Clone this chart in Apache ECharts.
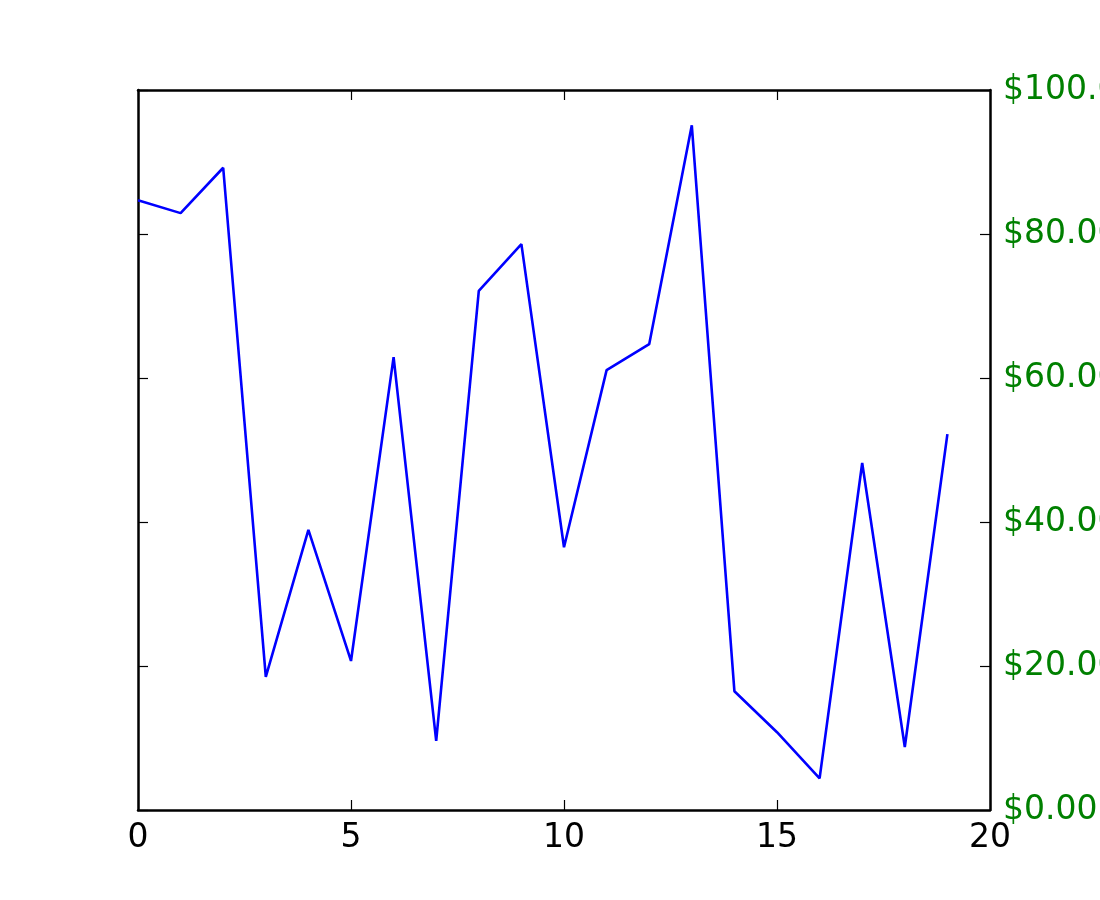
<!DOCTYPE html>
<html>
<head>
<meta charset="utf-8">
<script src="https://cdn.jsdelivr.net/npm/echarts@6/dist/echarts.min.js"></script>
<style>html,body{margin:0;padding:0;background:#fff}#c{width:1100px;height:900px}</style>
</head>
<body>
<div id="c"></div>
<script>
const xValues = [0,1,2,3,4,5,6,7,8,9,10,11,12,13,14,15,16,17,18,19];
const yValues = [84.7,82.9,89.2,18.5,38.9,20.7,62.9,9.6,72.1,78.6,36.5,61.1,64.7,95.1,16.5,10.8,4.4,48.2,8.75,52.2];
const xTicks = [0,5,10,15,20];
const yTicks = [0,20,40,60,80,100];

const chart = echarts.init(document.getElementById('c'));
const font = 'DejaVu Sans';
const axisLine = {show:true, onZero:false, lineStyle:{color:'#000', width:2.5}};
const tick = {show:true, inside:true, length:10, lineStyle:{color:'#000', width:1.2}};
chart.setOption({
  animation:false,
  grid:{left:138, right:110, top:90, bottom:90, containLabel:false, outerBoundsMode:'none'},
  xAxis:[
    {type:'value', position:'bottom', min:0, max:20, interval:5,
     axisLine:axisLine, axisTick:tick, splitLine:{show:false},
     axisLabel:{color:'#000', fontFamily:font, fontSize:33, margin:12}},
    {type:'value', position:'top', min:0, max:20, interval:5,
     axisLine:axisLine, axisTick:tick, splitLine:{show:false},
     axisLabel:{show:false}}
  ],
  yAxis:[
    {type:'value', position:'left', min:0, max:100, interval:20,
     axisLine:axisLine, axisTick:tick, splitLine:{show:false},
     axisLabel:{show:false}},
    {type:'value', position:'right', min:0, max:100, interval:20,
     axisLine:axisLine, axisTick:tick, splitLine:{show:false},
     axisLabel:{color:'#008000', fontFamily:font, fontSize:33, margin:13,
       formatter:v=>'$'+v.toFixed(2)}}
  ],
  series:[{
    type:'line', xAxisIndex:0, yAxisIndex:0,
    data:xValues.map((x,i)=>[x,yValues[i]]),
    showSymbol:false, symbol:'none',
    lineStyle:{color:'#0000ff', width:2.6}
  }]
});
</script>
</body>
</html>
